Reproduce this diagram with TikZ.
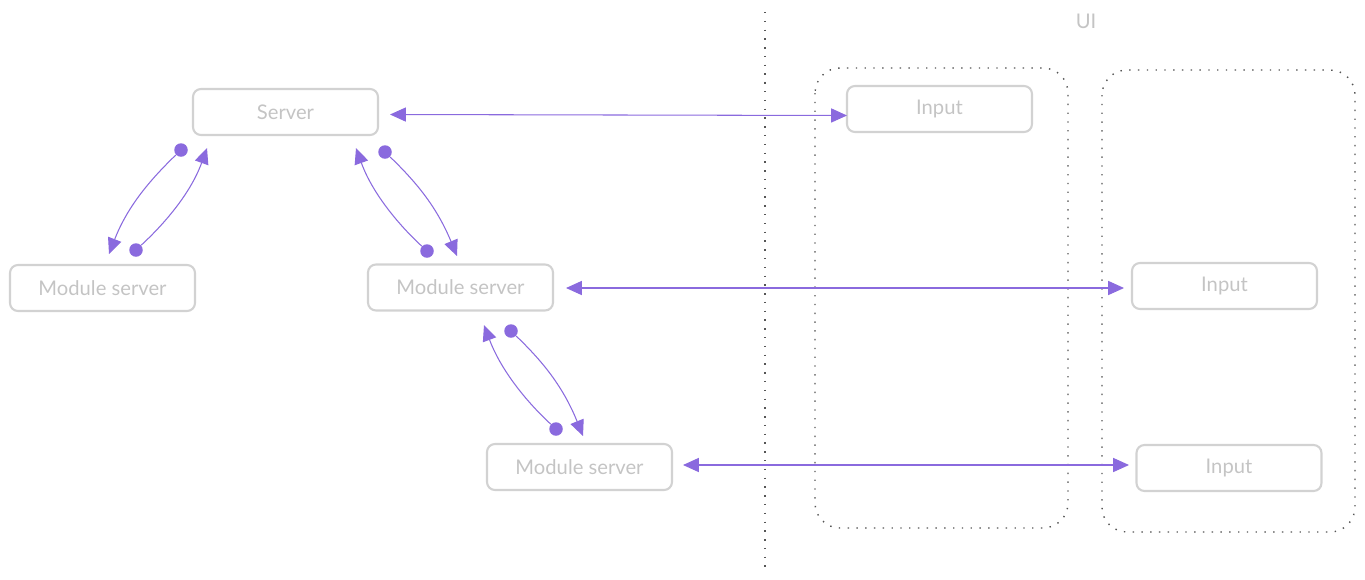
\documentclass[tikz,border=0pt]{standalone}
\usepackage{fontspec}
\setmainfont{Lato}
\usetikzlibrary{arrows.meta}
\definecolor{boxgray}{HTML}{D2D2D2}
\definecolor{txtgray}{HTML}{C4C4C4}
\definecolor{purp}{HTML}{8A6ADE}
\definecolor{dotgray}{HTML}{555555}
\tikzset{
  box/.style={draw=boxgray, line width=1.2pt, rounded corners=4.5pt, minimum width=3.7cm, minimum height=0.92cm, inner sep=0pt, text=txtgray, font=\fontsize{11.5}{14}\selectfont},
  conn/.style={draw=purp, line width=0.6pt},
  tri/.style={-{Triangle[length=9pt,width=8pt]}},
  bitri/.style={{Triangle[length=9pt,width=8pt]}-{Triangle[length=9pt,width=8pt]}},
  dotnode/.style={circle, fill=purp, inner sep=0pt, minimum size=0.27cm},
  dotline/.style={draw=dotgray, line width=0.8pt, dash pattern=on 0.8pt off 4.2pt},
  grp/.style={dotline, rounded corners=0.5cm},
}
\begin{document}
\begin{tikzpicture}[x=0.02cm, y=-0.02cm]
\useasboundingbox (0,0) rectangle (1365,579);
% divider and groups
\coordinate (dtop) at (765,12);
\coordinate (dbot) at (765,567);
\draw[dotline] (dtop) -- (dbot);
\draw[grp] (815,68) rectangle (1068,528);
\draw[grp] (1102,70) rectangle (1355,532);
\node[text=txtgray, font=\fontsize{11.5}{14}\selectfont] (ui) at (1086,21) {UI};
% boxes
\node[box] (server) at (285.5,112) {Server};
\node[box] (ms1) at (102.5,288) {Module server};
\node[box] (ms2) at (460.5,287.5) {Module server};
\node[box] (ms3) at (579.5,467) {Module server};
\node[box] (in1) at (939.5,109) {Input};
\node[box] (in2) at (1224.5,286) {Input};
\node[box] (in3) at (1229,468) {Input};
% horizontal links
\coordinate (s1) at (390,114.5);
\coordinate (e1) at (847,115.5);
\draw[conn, bitri] (s1) -- (e1);
\coordinate (s2) at (566,288);
\coordinate (e2) at (1124,288);
\draw[conn, bitri] (s2) -- (e2);
\coordinate (s3) at (683,465);
\coordinate (e3) at (1129,465);
\draw[conn, bitri] (s3) -- (e3);
% curved links
\node[dotnode] (dA) at (181,150) {};
\coordinate (tA) at (109,254);
\draw[conn, tri] (dA) .. controls (152,178) and (128,205) .. (tA);
\node[dotnode] (dB) at (136,250) {};
\coordinate (tB) at (207,148);
\draw[conn, tri] (dB) .. controls (162,226) and (190,195) .. (tB);
\node[dotnode] (dC) at (427,251) {};
\coordinate (tC) at (356,148);
\draw[conn, tri] (dC) .. controls (401,227) and (373,195) .. (tC);
\node[dotnode] (dD) at (385,152) {};
\coordinate (tD) at (457,256);
\draw[conn, tri] (dD) .. controls (414,180) and (436,205) .. (tD);
\node[dotnode] (dE) at (556,429) {};
\coordinate (tE) at (484,325);
\draw[conn, tri] (dE) .. controls (530,405) and (502,373) .. (tE);
\node[dotnode] (dF) at (511,331) {};
\coordinate (tF) at (583,436);
\draw[conn, tri] (dF) .. controls (540,359) and (562,384) .. (tF);
\end{tikzpicture}
\end{document}
